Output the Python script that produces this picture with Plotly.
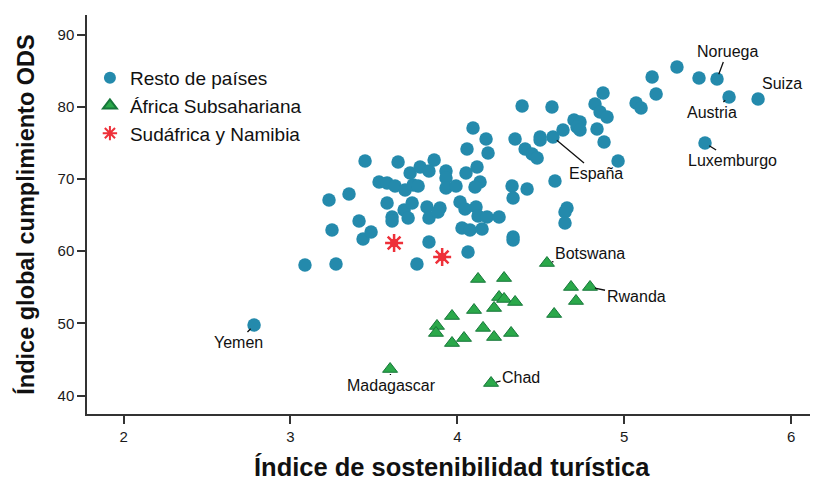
import plotly.graph_objects as go

# ---------------- data ----------------
resto_x = [2.782, 3.087, 3.273, 3.231, 3.249, 3.351, 3.411, 3.435, 3.483, 3.447,
           3.645, 3.531, 3.579, 3.627, 3.687, 3.735, 3.765, 3.717, 3.777, 3.861,
           3.830, 3.579, 3.609, 3.609, 3.681, 3.705, 3.729, 3.818, 3.830, 3.896,
           3.884, 3.830, 3.758, 3.932, 3.932, 3.932, 3.992, 4.052, 4.118, 4.136,
           4.106, 4.058, 4.094, 4.172, 4.184, 4.016, 4.046, 4.112, 4.124, 4.178,
           4.250, 4.028, 4.076, 4.148, 4.334, 4.334, 4.064, 4.328, 4.334, 4.418,
           4.346, 4.406, 4.448, 4.478, 4.496, 4.496, 4.388, 4.567, 4.573, 4.633,
           4.585, 4.657, 4.645, 4.645, 4.699, 4.735, 4.717, 4.735, 4.837, 4.879,
           4.963, 4.825, 4.855, 4.897, 4.873, 5.071, 5.101, 5.167, 5.191, 5.316,
           5.448, 5.556, 5.628, 5.802, 5.484]
resto_y = [49.76, 58.07, 58.21, 67.08, 62.92, 67.91, 64.17, 61.68, 62.65, 72.48,
           72.34, 69.57, 69.43, 69.02, 68.46, 69.15, 69.02, 70.82, 71.65, 72.62,
           71.10, 66.66, 64.72, 64.17, 65.69, 64.58, 66.66, 66.11, 64.58, 65.97,
           65.42, 61.26, 58.21, 71.10, 70.13, 68.75, 69.02, 70.82, 71.65, 69.57,
           68.88, 74.14, 77.05, 75.53, 73.59, 66.80, 65.83, 66.11, 64.86, 64.72,
           64.72, 63.20, 62.92, 63.06, 61.95, 61.54, 59.88, 69.02, 67.35, 68.60,
           75.53, 74.14, 73.45, 72.89, 75.80, 75.39, 80.10, 79.96, 75.80, 76.77,
           69.71, 65.97, 65.42, 63.89, 78.16, 77.88, 77.19, 76.77, 76.91, 75.11,
           72.48, 80.37, 79.27, 78.57, 81.90, 80.51, 79.82, 84.11, 81.76, 85.50,
           83.98, 83.84, 81.34, 81.07, 74.97]

africa_x = [4.537, 4.124, 4.280, 4.681, 4.795, 4.711, 4.580, 4.250, 4.280, 4.346,
            4.220, 4.100, 3.968, 3.878, 3.872, 4.154, 4.322, 4.220, 4.040, 3.968,
            3.597, 4.202]
africa_y = [58.35, 56.14, 56.27, 55.03, 55.03, 53.09, 51.29, 53.64, 53.37, 52.95,
            52.12, 51.84, 51.01, 49.63, 48.66, 49.36, 48.66, 48.10, 47.96, 47.27,
            43.67, 41.73]

sudafrica_x = [3.621, 3.909]
sudafrica_y = [61.12, 59.18]

# labelled countries: name, x, y
label_names = ["Yemen", "Madagascar", "Chad", "Botswana", "Rwanda",
               "España", "Luxemburgo", "Austria", "Noruega", "Suiza"]
label_x = [2.782, 3.597, 4.202, 4.537, 4.795, 4.573, 5.484, 5.628, 5.556, 5.802]
label_y = [49.76, 43.67, 41.73, 58.35, 55.03, 75.80, 74.97, 81.34, 83.84, 81.07]
# label offsets in pixels (style)
label_dx = [-16, 1, 30, 43, 46, 43, 27, -17, 10, 24]
label_dy = [17, 16, -6, -10, 10, 36, 17, 15, -27, -15]
label_arrow = [True, True, True, True, True, True, True, True, True, False]

x_ticks = [2, 3, 4, 5, 6]
y_ticks = [40, 50, 60, 70, 80, 90]

x_title = "Índice de sostenibilidad turística"
y_title = "Índice global cumplimiento ODS"

BLUE = "#248AAC"
GREEN = "#2BA84A"
GREEN_EDGE = "#16773A"
RED = "#EE3039"
FONT = "Liberation Sans, Arial, sans-serif"

fig = go.Figure()
fig.add_trace(go.Scatter(
    x=resto_x, y=resto_y, mode="markers", name="Resto de países",
    marker=dict(color=BLUE, size=13.5, line=dict(width=0))))
fig.add_trace(go.Scatter(
    x=africa_x, y=africa_y, mode="markers", name="África Subsahariana",
    marker=dict(color=GREEN, symbol="triangle-up", size=13,
                line=dict(color=GREEN_EDGE, width=1))))
fig.add_trace(go.Scatter(
    x=sudafrica_x, y=sudafrica_y, mode="markers", name="Sudáfrica y Namibia",
    marker=dict(color=RED, symbol="asterisk-open", size=15,
                line=dict(color=RED, width=2.5))))
fig.add_trace(go.Scatter(
    x=sudafrica_x, y=sudafrica_y, mode="markers", showlegend=False,
    hoverinfo="skip",
    marker=dict(color=RED, symbol="circle", size=8.5, line=dict(width=0))))

for n, x, y, dx, dy, arr in zip(label_names, label_x, label_y,
                                label_dx, label_dy, label_arrow):
    if arr:
        fig.add_annotation(x=x, y=y, text=n, showarrow=True, ax=dx, ay=dy,
                           arrowhead=0, arrowwidth=1.3, arrowcolor="#111",
                           standoff=5, font=dict(family=FONT, size=16, color="#111"))
    else:
        fig.add_annotation(x=x, y=y, text=n, showarrow=False,
                           xshift=dx, yshift=-dy,
                           font=dict(family=FONT, size=16, color="#111"))

# x-axis title as a paper annotation
fig.add_annotation(xref="paper", yref="paper", x=0.5, y=0, text=x_title,
                   showarrow=False, xanchor="center", yanchor="middle", yshift=-53,
                   font=dict(family=FONT, size=25.5, color="#111", weight="bold"))

axis_common = dict(showline=True, linecolor="#333", linewidth=1.5,
                   ticks="outside", ticklen=8, tickwidth=1.5, tickcolor="#333",
                   showgrid=False, zeroline=False,
                   tickfont=dict(family=FONT, size=15, color="#1a1a1a"))

# page body has an 8px margin, so the figure is 8px smaller than the window
fig.update_layout(
    width=810, height=474,
    margin=dict(l=79, r=1, t=7, b=68, autoexpand=False),
    plot_bgcolor="white", paper_bgcolor="white",
    font=dict(family=FONT),
    xaxis=dict(range=[1.781, 6.155], tickvals=x_ticks, automargin=False,
               **axis_common),
    yaxis=dict(range=[37.44, 92.70], tickvals=y_ticks, automargin=False,
               title=dict(text=y_title,
                          font=dict(family=FONT, size=23.5, color="#111", weight="bold"),
                          standoff=16),
               **axis_common),
    legend=dict(x=0.004, y=0.89, xanchor="left", yanchor="top",
                bgcolor="rgba(0,0,0,0)", font=dict(family=FONT, size=19, color="#111"),
                itemsizing="constant", tracegroupgap=0),
    showlegend=True,
)

fig.write_html("out.html")
